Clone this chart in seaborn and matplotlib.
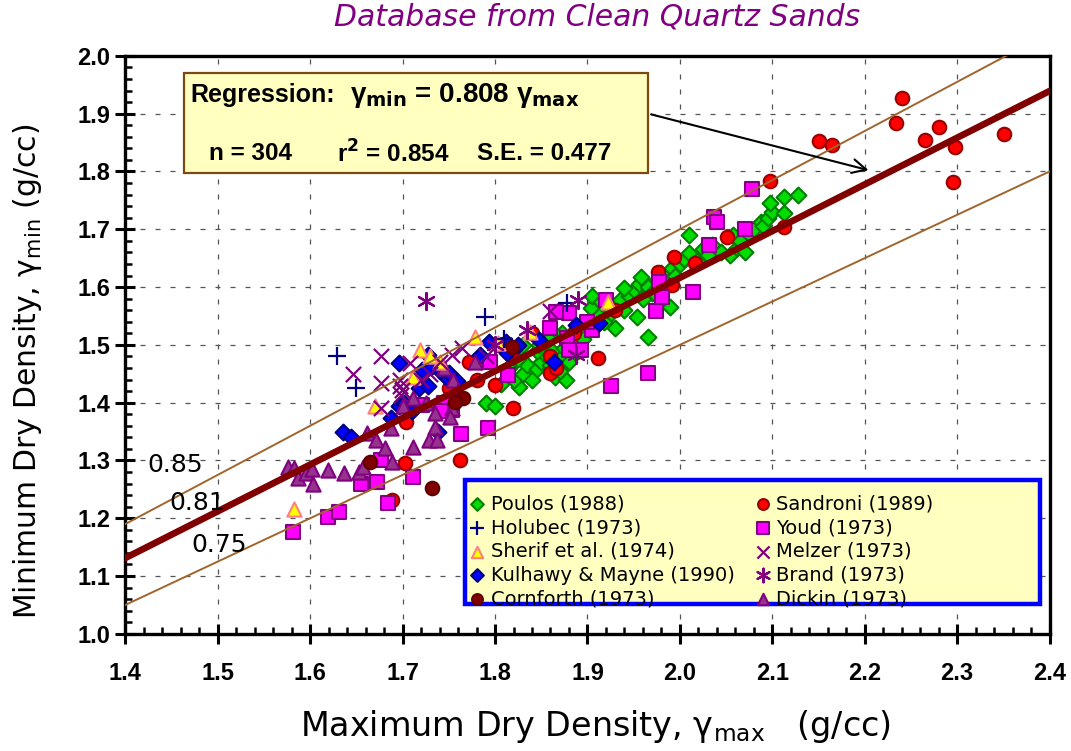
import matplotlib
matplotlib.use('Agg')
import matplotlib.pyplot as plt
import seaborn as sns
import pandas as pd
from matplotlib.patches import Rectangle

# values (gamma_max, gamma_min)
poulos = [(1.790, 1.400), (1.800, 1.395), (1.807, 1.433), (1.826, 1.427), (1.820, 1.440),
          (1.830, 1.450), (1.840, 1.440), (1.835, 1.465), (1.845, 1.458), (1.850, 1.470),
          (1.855, 1.480), (1.860, 1.465), (1.865, 1.445), (1.877, 1.440), (1.870, 1.478),
          (1.862, 1.490), (1.875, 1.495), (1.880, 1.505), (1.885, 1.515), (1.872, 1.520),
          (1.890, 1.525), (1.895, 1.510), (1.900, 1.535), (1.905, 1.545), (1.904, 1.563),
          (1.912, 1.550), (1.918, 1.540), (1.925, 1.555), (1.920, 1.570), (1.930, 1.565),
          (1.935, 1.578), (1.940, 1.560), (1.945, 1.585), (1.954, 1.548), (1.950, 1.595),
          (1.956, 1.605), (1.958, 1.618), (1.965, 1.600), (1.965, 1.514), (1.970, 1.590),
          (1.975, 1.612), (1.980, 1.625), (1.989, 1.566), (1.985, 1.605), (1.991, 1.633),
          (1.995, 1.620), (2.000, 1.640), (2.005, 1.648), (2.010, 1.659), (2.010, 1.690),
          (2.018, 1.645), (2.025, 1.665), (2.035, 1.672), (2.045, 1.660), (2.054, 1.656),
          (2.058, 1.690), (2.062, 1.668), (2.070, 1.661), (2.075, 1.690), (2.080, 1.700),
          (2.088, 1.713), (2.090, 1.705), (2.095, 1.720), (2.100, 1.730), (2.097, 1.746),
          (2.113, 1.728), (2.113, 1.755), (2.128, 1.760), (1.870, 1.455), (1.845, 1.490),
          (1.830, 1.500), (1.880, 1.470), (1.890, 1.490), (1.940, 1.598), (1.960, 1.580),
          (1.905, 1.585), (1.915, 1.575), (1.848, 1.500), (1.858, 1.510), (1.825, 1.475),
          (1.815, 1.460), (1.930, 1.530), (2.065, 1.680), (2.030, 1.655), (1.975, 1.585)]
sandroni = [(2.240, 1.927), (2.234, 1.884), (2.280, 1.877), (2.265, 1.855), (2.298, 1.843),
            (2.351, 1.865), (2.295, 1.782), (2.150, 1.852), (2.165, 1.846), (2.097, 1.784),
            (2.113, 1.704), (2.051, 1.687), (2.016, 1.642), (1.994, 1.652), (1.976, 1.626),
            (1.992, 1.604), (1.930, 1.560), (1.911, 1.477), (1.819, 1.391), (1.800, 1.430),
            (1.785, 1.470), (1.772, 1.471), (1.780, 1.440), (1.762, 1.301), (1.704, 1.367),
            (1.703, 1.296), (1.689, 1.232), (1.859, 1.451), (1.866, 1.460), (1.859, 1.480),
            (1.885, 1.520), (1.840, 1.520), (1.818, 1.490), (1.750, 1.425), (1.740, 1.460)]
youd = [(1.581, 1.176), (1.619, 1.202), (1.631, 1.211), (1.655, 1.260), (1.672, 1.263),
        (1.684, 1.227), (1.677, 1.301), (1.711, 1.272), (1.763, 1.346), (1.754, 1.388),
        (1.721, 1.396), (1.792, 1.356), (1.814, 1.448), (1.926, 1.429), (1.965, 1.452),
        (1.974, 1.559), (1.981, 1.583), (1.977, 1.609), (2.014, 1.592), (2.031, 1.673),
        (2.037, 1.722), (2.040, 1.712), (2.070, 1.700), (2.078, 1.770), (1.880, 1.555),
        (1.866, 1.557), (1.878, 1.512), (1.893, 1.491), (1.880, 1.491), (1.905, 1.526),
        (1.920, 1.578), (1.795, 1.470), (1.810, 1.500), (1.745, 1.400), (1.742, 1.385),
        (1.860, 1.530), (1.900, 1.540)]
kulhawy = [(1.635, 1.349), (1.644, 1.341), (1.688, 1.373), (1.696, 1.394), (1.701, 1.400),
           (1.696, 1.469), (1.718, 1.426), (1.728, 1.429), (1.721, 1.457), (1.727, 1.483),
           (1.731, 1.462), (1.747, 1.445), (1.759, 1.438), (1.738, 1.350), (1.794, 1.505),
           (1.812, 1.505), (1.813, 1.486), (1.848, 1.509), (1.864, 1.471), (1.888, 1.535),
           (1.913, 1.538), (1.784, 1.483), (1.740, 1.455), (1.710, 1.385), (1.825, 1.500),
           (1.750, 1.452)]
dickin = [(1.576, 1.289), (1.582, 1.287), (1.587, 1.270), (1.595, 1.278), (1.603, 1.260),
          (1.602, 1.285), (1.619, 1.284), (1.637, 1.278), (1.653, 1.280), (1.657, 1.289),
          (1.661, 1.347), (1.671, 1.336), (1.681, 1.322), (1.689, 1.298), (1.688, 1.356),
          (1.711, 1.324), (1.711, 1.408), (1.729, 1.336), (1.735, 1.382), (1.735, 1.358),
          (1.737, 1.336), (1.753, 1.391), (1.751, 1.375), (1.778, 1.471), (1.745, 1.460),
          (1.755, 1.440), (1.760, 1.420), (1.725, 1.400), (1.700, 1.395)]
cornforth = [(1.665, 1.298), (1.732, 1.253), (1.765, 1.408), (1.818, 1.497), (1.757, 1.402)]
holubec = [(1.629, 1.481), (1.650, 1.426), (1.789, 1.549), (1.878, 1.573), (1.810, 1.510)]
melzer = [(1.677, 1.481), (1.646, 1.450), (1.677, 1.434), (1.697, 1.428), (1.698, 1.413),
          (1.677, 1.391), (1.753, 1.483), (1.764, 1.495), (1.708, 1.469), (1.697, 1.439),
          (1.699, 1.422), (1.859, 1.559), (1.730, 1.450), (1.740, 1.470), (1.720, 1.440),
          (1.790, 1.480)]
brand = [(1.725, 1.576), (1.890, 1.578), (1.835, 1.526), (1.888, 1.483), (1.800, 1.500)]
sherif = [(1.670, 1.394), (1.582, 1.216), (1.719, 1.491), (1.740, 1.471), (1.711, 1.445),
          (1.778, 1.514), (1.922, 1.574), (1.838, 1.522), (1.803, 1.503), (1.730, 1.480)]

reg_slope = 0.808
band_slopes = [0.85, 0.75]
line_labels = ['0.85', '0.81', '0.75']
x_ticks = [1.4, 1.5, 1.6, 1.7, 1.8, 1.9, 2.0, 2.1, 2.2, 2.3, 2.4]
y_ticks = [1.0, 1.1, 1.2, 1.3, 1.4, 1.5, 1.6, 1.7, 1.8, 1.9, 2.0]

sns.set_style('ticks')
plt.rcParams['font.family'] = ['DejaVu Sans']
plt.rcParams['mathtext.fontset'] = 'dejavusans'
plt.rcParams['text.color'] = 'black'
plt.rcParams['xtick.color'] = 'black'
plt.rcParams['ytick.color'] = 'black'
plt.rcParams['axes.labelcolor'] = 'black'

fig = plt.figure(figsize=(10.71, 7.51), dpi=100)
ax = fig.add_axes([0.117, 0.156, 0.863, 0.7696])

# name, data, marker, face, edge, size
series = [
    ('Poulos (1988)', poulos, 'D', '#00DD00', '#008000', 65),
    ('Sandroni (1989)', sandroni, 'o', '#FF0000', '#990000', 95),
    ('Youd (1973)', youd, 's', '#FF00FF', '#800080', 105),
    ('Kulhawy & Mayne (1990)', kulhawy, 'D', '#0000FF', '#000080', 65),
    ('Dickin (1973)', dickin, '^', '#96338C', '#800080', 105),
    ('Cornforth (1973)', cornforth, 'o', '#800000', '#600000', 95),
    ('Sherif et al. (1974)', sherif, '^', '#FFFF00', '#FF8080', 105),
    ('Holubec (1973)', holubec, '+', '#000080', None, 170),
    ('Melzer (1973)', melzer, 'x', '#800080', None, 120),
    ('Brand (1973)', brand, (6, 2, 0), '#800080', None, 150),
]

for name, pts, mk, face, edge, size in series:
    df = pd.DataFrame(pts, columns=['gmax', 'gmin'])
    if edge is None:
        sns.scatterplot(data=df, x='gmax', y='gmin', marker=mk, color=face, s=size,
                        linewidth=1.6, label=name, ax=ax, zorder=3)
    else:
        sns.scatterplot(data=df, x='gmax', y='gmin', marker=mk, color=face, edgecolor=edge,
                        s=size, linewidth=1.5, label=name, ax=ax, zorder=3)

xs = [x_ticks[0], x_ticks[-1]]
for sl in band_slopes:
    sns.lineplot(x=xs, y=[sl * v for v in xs], color='#A0652D', lw=1.4, ax=ax,
                 zorder=4, label='_nolegend_')
sns.lineplot(x=xs, y=[reg_slope * v for v in xs], color='#800000', lw=4.8, ax=ax,
             zorder=4, label='_nolegend_')

ax.set_xlim(1.4, 2.4)
ax.set_ylim(1.0, 2.0)
ax.set_xticks(x_ticks)
ax.set_yticks(y_ticks)
ax.set_xticks([1.4 + 0.02 * i for i in range(51)], minor=True)
ax.set_yticks([1.0 + 0.02 * i for i in range(51)], minor=True)
ax.set_xticklabels([f'{v:.1f}' for v in x_ticks], fontfamily='Liberation Sans',
                   fontweight='bold', fontsize=17)
ax.set_yticklabels([f'{v:.1f}' for v in y_ticks], fontfamily='Liberation Sans',
                   fontweight='bold', fontsize=17)
ax.tick_params(which='major', direction='inout', length=14, width=2.2, color='black')
ax.tick_params(axis='x', which='major', pad=13)
ax.tick_params(axis='y', which='major', pad=4)
ax.tick_params(which='minor', direction='in', length=5, width=1.8, color='black')
for sp in ax.spines.values():
    sp.set_linewidth(2.4)
    sp.set_color('black')
ax.grid(True, which='major', color='#555555', lw=0.9, ls=(0, (4, 8)))
ax.set_xlabel('')
ax.set_ylabel('')

fig.text(0.558, 0.977, 'Database from Clean Quartz Sands', color='#800080',
         style='italic', fontsize=21.5, ha='center', va='center')
fig.text(0.556, 0.033, r'Maximum Dry Density, γ$_{\rm max}$   (g/cc)', fontsize=24,
         ha='center', va='center')
fig.text(0.026, 0.506, r'Minimum Dry Density, γ$_{\rm min}$ (g/cc)', fontsize=21.5,
         ha='center', va='center', rotation=90)

# band labels
for lab, (lx, ly) in zip(line_labels, [(1.424, 1.292), (1.448, 1.226), (1.471, 1.154)]):
    ax.text(lx, ly, lab, fontsize=18, ha='left', va='center', zorder=6)

# regression box
ax.add_patch(Rectangle((0.064, 0.797), 0.501, 0.174, transform=ax.transAxes,
                       facecolor='#FFFFC0', edgecolor='#7B4A12', lw=1.6, zorder=6))
box_font = dict(fontfamily='Liberation Sans', fontweight='bold', transform=ax.transAxes,
                va='center', ha='left', zorder=7)
ax.text(0.0708, 0.932, 'Regression:', fontsize=18, **box_font)
ax.text(0.2427, 0.932, r'γ$_{\mathbf{min}}$ = 0.808 γ$_{\mathbf{max}}$', fontsize=20, **box_font)
ax.text(0.0903, 0.831, 'n = 304', fontsize=17.5, **box_font)
ax.text(0.229, 0.831, r'r$^{\mathbf{2}}$ = 0.854', fontsize=17.5, **box_font)
ax.text(0.381, 0.831, 'S.E. = 0.477', fontsize=17.5, **box_font)
ax.annotate('', xy=(2.207, 1.801), xytext=(1.966, 1.900),
            arrowprops=dict(arrowstyle='->', color='black', lw=1.5, mutation_scale=25),
            zorder=7)

# legend box
ax.add_patch(Rectangle((0.368, 0.052), 0.622, 0.214, transform=ax.transAxes,
                       facecolor='#FFFFC0', edgecolor='#0000FF', lw=3.2, zorder=6))
handles, labels = ax.get_legend_handles_labels()
lookup = dict(zip(labels, handles))
order = ['Poulos (1988)', 'Holubec (1973)', 'Sherif et al. (1974)', 'Kulhawy & Mayne (1990)',
         'Cornforth (1973)', 'Sandroni (1989)', 'Youd (1973)', 'Melzer (1973)',
         'Brand (1973)', 'Dickin (1973)']
leg = ax.legend([lookup[k] for k in order], order, ncol=2, loc='upper left',
                bbox_to_anchor=(0.371, 0.241), frameon=False, fontsize=14,
                labelspacing=0.24, handletextpad=0.25, handlelength=0.9,
                columnspacing=1.0, borderaxespad=0, borderpad=0, markerscale=0.8)
leg.set_zorder(8)

fig.savefig('out.png', dpi=100, facecolor='white')
